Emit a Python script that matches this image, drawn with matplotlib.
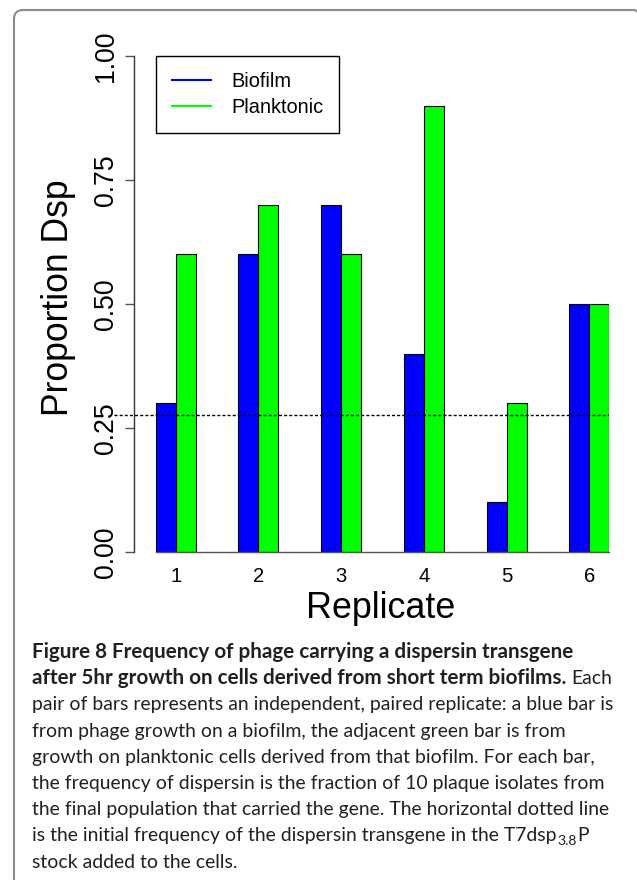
import matplotlib
matplotlib.use('Agg')
import matplotlib.pyplot as plt
from matplotlib.lines import Line2D
from matplotlib.path import Path
from matplotlib.patches import PathPatch
import matplotlib.transforms as mtransforms

# ---------------- data ----------------
replicates = ['1', '2', '3', '4', '5', '6']
biofilm = [0.3, 0.6, 0.7, 0.4, 0.1, 0.5]
planktonic = [0.6, 0.7, 0.6, 0.9, 0.3, 0.5]
initial_frequency = 0.276
y_ticks = [0.0, 0.25, 0.5, 0.75, 1.0]
y_tick_labels = ['0.00', '0.25', '0.50', '0.75', '1.00']
series_names = ['Biofilm', 'Planktonic']
series_colors = ['#0000ff', '#00ff00']

caption_lines = [
    ("bold", "Figure 8 Frequency of phage carrying a dispersin transgene"),
    ("mixed2", ("after 5hr growth on cells derived from short term biofilms.", "Each")),
    ("normal", "pair of bars represents an independent, paired replicate: a blue bar is"),
    ("normal", "from phage growth on a biofilm, the adjacent green bar is from"),
    ("normal", "growth on planktonic cells derived from that biofilm. For each bar,"),
    ("normal", "the frequency of dispersin is the fraction of 10 plaque isolates from"),
    ("normal", "the final population that carried the gene. The horizontal dotted line"),
    ("sub", ("is the initial frequency of the dispersin transgene in the T7dsp", "3.8", "P")),
    ("normal", "stock added to the cells."),
]

plt.rcParams['font.family'] = ['Liberation Sans', 'DejaVu Sans']

W, H = 637, 880
fig = plt.figure(figsize=(W / 100, H / 100), dpi=100)


def fx(px):
    return px / W


def fy(py):
    return 1 - py / H


ax = fig.add_axes([fx(114), fy(552), (609 - 114) / W, (552 - 56) / H])
ax.set_facecolor('none')

x = list(range(1, len(replicates) + 1))
w = 0.242
ax.bar([i - w / 2 for i in x], biofilm, width=w, color=series_colors[0],
       edgecolor='black', linewidth=0.8, zorder=2)
ax.bar([i + w / 2 for i in x], planktonic, width=w, color=series_colors[1],
       edgecolor='black', linewidth=0.8, zorder=2)
ax.plot([x[0] - w, x[-1] + w], [0, 0], color='#555555', lw=1.0, zorder=3,
        clip_on=False)

ax.axhline(initial_frequency, color='black', lw=1.0,
           linestyle=(0, (2.2, 1.5)), zorder=4)

ax.set_xlim(0.254, 6.239)
ax.set_ylim(0, 1)

for s in ['top', 'right', 'bottom']:
    ax.spines[s].set_visible(False)
ax.spines['left'].set_position(('data', 0.5))
ax.spines['left'].set_bounds(0, 1)
ax.spines['left'].set_color('#333333')
ax.spines['left'].set_linewidth(1.0)

ax.set_yticks(y_ticks)
ax.set_yticklabels(y_tick_labels, rotation=90, va='center', fontsize=19.2)
ax.tick_params(axis='y', length=6.5, width=1.0, pad=4.5, color='#555555')
ax.set_xticks(x)
ax.set_xticklabels(replicates, fontsize=14.6)
ax.tick_params(axis='x', length=0, pad=10.8)

handles = [Line2D([], [], color=c, lw=1.5) for c in series_colors]
leg = ax.legend(handles, series_names, loc='upper left',
                bbox_to_anchor=(fx(156), fy(56)), bbox_transform=fig.transFigure,
                borderaxespad=0, fontsize=14.4, handlelength=1.95,
                handletextpad=1.0, borderpad=0.8, labelspacing=0.35,
                frameon=True, fancybox=False, edgecolor='black', framealpha=1)
leg.get_frame().set_linewidth(1.0)

fig.text(fx(58), fy(297.5), 'Proportion Dsp', rotation=90, ha='center',
         va='center', fontsize=25.6)
fig.text(fx(381), fy(608.5), 'Replicate', ha='center', va='center',
         fontsize=25.8)

# ---------------- frame ----------------
verts = [(14, 895), (14, 19), (14, 10), (23, 10), (634, 10), (636, 10), (637, 12)]
codes = [Path.MOVETO, Path.LINETO, Path.CURVE3, Path.CURVE3, Path.LINETO,
         Path.CURVE3, Path.CURVE3]
tr = mtransforms.Affine2D().scale(1 / W, -1 / H).translate(0, 1) + fig.transFigure
fig.patches.append(PathPatch(Path(verts, codes), facecolor='none',
                             edgecolor='#8c8c8c', lw=1.5, transform=tr))

# ---------------- caption ----------------
renderer = fig.canvas.get_renderer()
cap_font = ['Lato', 'DejaVu Sans']


def measure(s, size, **kw):
    t = fig.text(0, 0, s, fontsize=size, family=cap_font, **kw)
    wd = t.get_window_extent(renderer).width
    t.remove()
    return wd


cap_size = 12 * 580 / measure(caption_lines[2][1], 12)
gap = cap_size * 0.35
each_w = measure(caption_lines[1][1][1], cap_size)
bold_size = 12 * (578 - each_w - gap) / measure(caption_lines[1][1][0], 12,
                                                 weight='bold')
cap_color = '#231f20'
x0 = 32
base0 = 658
step = 26.2

for k, (kind, content) in enumerate(caption_lines):
    by = fy(base0 + k * step)
    if kind == 'bold':
        fig.text(fx(x0), by, content, fontsize=bold_size, family=cap_font,
                 weight='bold', va='baseline', color=cap_color)
    elif kind == 'normal':
        fig.text(fx(x0), by, content, fontsize=cap_size, family=cap_font,
                 va='baseline', color=cap_color)
    elif kind == 'mixed2':
        t1 = fig.text(fx(x0), by, content[0], fontsize=bold_size, family=cap_font,
                      weight='bold', va='baseline', color=cap_color)
        x1 = t1.get_window_extent(renderer).x1
        fig.text(fx(x1 + gap), by, content[1], fontsize=cap_size,
                 family=cap_font, va='baseline', color=cap_color)
    elif kind == 'sub':
        t1 = fig.text(fx(x0), by, content[0], fontsize=cap_size, family=cap_font,
                      va='baseline', color=cap_color)
        x1 = t1.get_window_extent(renderer).x1
        t2 = fig.text(fx(x1 + 0.5), fy(base0 + k * step + 3.5), content[1],
                      fontsize=cap_size * 0.72, family=cap_font, va='baseline',
                      color=cap_color)
        x2 = t2.get_window_extent(renderer).x1
        fig.text(fx(x2 + 0.5), by, content[2], fontsize=cap_size,
                 family=cap_font, va='baseline', color=cap_color)

fig.savefig('out.png', dpi=100)
